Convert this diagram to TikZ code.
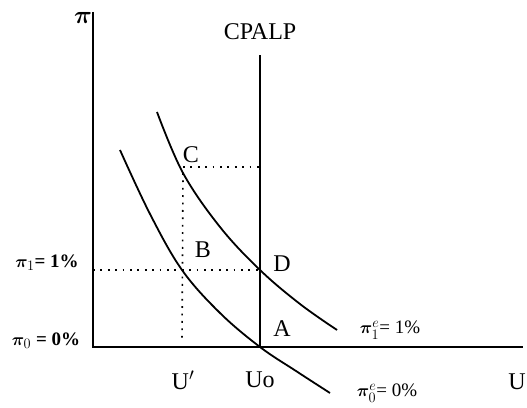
\documentclass[tikz,border=0pt]{standalone}
\usepackage{amsmath,amssymb,bm}
\usepackage{fontspec}
\setmainfont{Liberation Serif}
\usetikzlibrary{positioning}

\tikzset{
  axis/.style={line width=2.2pt},
  curve/.style={line width=1.8pt},
  guide/.style={line width=1.6pt,dash pattern=on 1.8pt off 5.6pt},
  lab/.style={font=\fontsize{24}{28}\selectfont,inner sep=1pt},
  small/.style={font=\fontsize{19}{22}\selectfont\bfseries,inner sep=1pt}
}

\begin{document}
\begin{tikzpicture}[x=1pt,y=1pt]
\useasboundingbox (0,0) rectangle (527,407);
% axes
\coordinate (O) at (93,60);
\coordinate (ytop) at (93,395);
\coordinate (xend) at (523,60);
\draw[axis] (ytop) -- (O) -- (xend);
\node[lab] (pi) at (83,389) {$\bm{\pi}$};
\node[lab] (u) at (517,25) {U};
% long run Phillips curve
\coordinate (A) at (260,60);
\coordinate (lrtop) at (260,352);
\draw[axis] (A) -- (lrtop);
\node[lab] (cpalp) at (260,375) {CPALP};
% short run curves
\coordinate (B) at (182,137);
\coordinate (C) at (183,234);
\coordinate (D) at (260,137);
\draw[curve] plot[smooth,tension=0.6] coordinates {(120,257) (150,193) (182,137) (220,94) (260,60) (296,36) (330,14)};
\draw[curve] plot[smooth,tension=0.6] coordinates {(157,295) (183,234) (220,180) (260,137) (300,103) (337,77)};
% guides
\coordinate (C2) at (260,240);
\coordinate (B0) at (182,66);
\draw[guide] (O |- D) -- (D);
\draw[guide] (C) ++(0,6) -- (C2);
\draw[guide] (C) -- (B0);
% point labels
\node[lab] (lC) at (191,252) {C};
\node[lab] (lB) at (203,157) {B};
\node[lab] (lD) at (282,143) {D};
\node[lab] (lA) at (282,78) {A};
\node[lab] (lu1) at (183,27) {U$'$};
\node[lab] (lu0) at (260,27) {Uo};
% inflation labels
\node[small] (pi1) at (47,144) {$\bm{\pi}_{1}$= 1\%};
\node[small] (pi0) at (46,66) {$\bm{\pi}_{0}$ = 0\%};
\node[small,font=\fontsize{19}{22}\selectfont] (pe1) at (390,77) {$\bm{\pi}^{e}_{1}$= 1\%};
\node[small,font=\fontsize{19}{22}\selectfont] (pe0) at (387,14) {$\bm{\pi}^{e}_{0}$= 0\%};
\end{tikzpicture}
\end{document}
